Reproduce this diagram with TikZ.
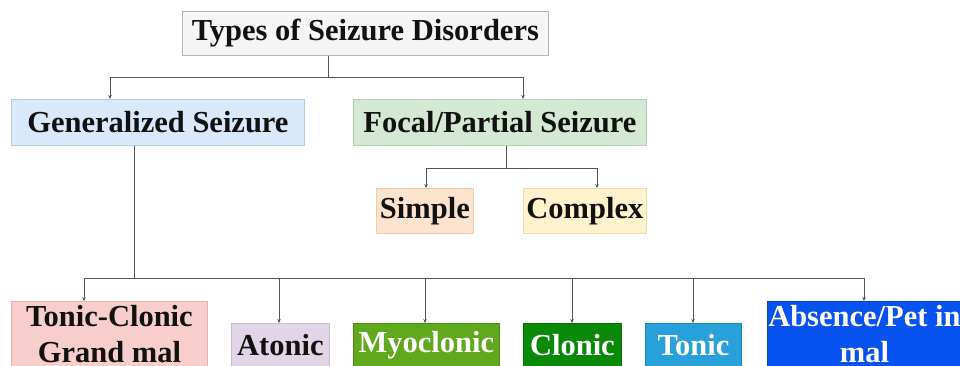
\documentclass[tikz,border=0pt]{standalone}
\usepackage{fontspec}
\setmainfont{Liberation Serif}
\usetikzlibrary{arrows.meta}
\definecolor{cTopF}{HTML}{F5F5F5}\definecolor{cTopD}{HTML}{B5B5B5}
\definecolor{cGenF}{HTML}{DAE8FC}\definecolor{cGenD}{HTML}{B4CBEA}
\definecolor{cFocF}{HTML}{D5E8D4}\definecolor{cFocD}{HTML}{B3D1B1}
\definecolor{cSimF}{HTML}{FCE3CD}\definecolor{cSimD}{HTML}{EBCBAA}
\definecolor{cComF}{HTML}{FFF2CC}\definecolor{cComD}{HTML}{EDDDAA}
\definecolor{cTCF}{HTML}{F8CECC}\definecolor{cTCD}{HTML}{E6B3B1}
\definecolor{cAtoF}{HTML}{E1D5E7}\definecolor{cAtoD}{HTML}{C9B9D2}
\definecolor{cMyoF}{HTML}{60A81C}\definecolor{cMyoD}{HTML}{4A8E12}
\definecolor{cCloF}{HTML}{088A08}\definecolor{cCloD}{HTML}{056E05}
\definecolor{cTonF}{HTML}{28A0DA}\definecolor{cTonD}{HTML}{1A86BC}
\definecolor{cAbsF}{HTML}{0852F0}\definecolor{cAbsD}{HTML}{0640C0}
\definecolor{cLine}{HTML}{555555}
\definecolor{cTxt}{HTML}{111111}
\begin{document}
\begin{tikzpicture}[x=1pt,y=-1pt,
  box/.style={rectangle, anchor=north west, inner sep=0pt, line width=0.8pt,
    font=\bfseries\fontsize{30.5}{36}\selectfont, align=center, text=cTxt},
  wtxt/.style={text=white},
  ln/.style={draw=cLine, line width=0.9pt},
  arr/.style={ln, -{Stealth[length=4pt,width=3.5pt]}}]
\useasboundingbox (0,0) rectangle (960,365);
\clip (0,0) rectangle (960,365);
\fill[white] (0,0) rectangle (960,365);
% nodes
\node[box, fill=cTopF, draw=cTopD, minimum width=366, minimum height=44] (top) at (182,11) {Types of Seizure Disorders};
\node[box, fill=cGenF, draw=cGenD, minimum width=293, minimum height=46] (gen) at (11,99) {Generalized Seizure};
\node[box, fill=cFocF, draw=cFocD, minimum width=293, minimum height=46] (foc) at (353,99) {Focal/Partial Seizure};
\node[box, fill=cSimF, draw=cSimD, minimum width=97, minimum height=45] (sim) at (376,188) {Simple};
\node[box, fill=cComF, draw=cComD, minimum width=123, minimum height=45] (com) at (523,188) {Complex};
\node[box, fill=cTCF, draw=cTCD, minimum width=196, minimum height=66] (tc) at (11,301) {Tonic-Clonic\\Grand mal};
\node[box, fill=cAtoF, draw=cAtoD, minimum width=98, minimum height=44] (ato) at (231,323) {Atonic};
\node[box, wtxt, fill=cMyoF, draw=cMyoD, minimum width=146, minimum height=44] (myo) at (353,323) {Myoclonic};
\node[box, wtxt, fill=cCloF, draw=cCloD, minimum width=98, minimum height=44] (clo) at (523,323) {Clonic};
\node[box, wtxt, fill=cTonF, draw=cTonD, minimum width=96, minimum height=44] (ton) at (645,323) {Tonic};
\node[box, wtxt, fill=cAbsF, draw=cAbsD, minimum width=194, minimum height=66] (abs) at (767,301) {Absence/Pet in\\mal};
% junction coordinates
\coordinate (j1) at (328,77);
\coordinate (xg) at (110,0);
\coordinate (xf) at (523,0);
\coordinate (j2) at (506,168);
\coordinate (xs) at (426,0);
\coordinate (xc) at (597,0);
\coordinate (j3) at (134,278);
\coordinate (x1) at (84,0);
\coordinate (x2) at (279,0);
\coordinate (x3) at (425,0);
\coordinate (x4) at (572,0);
\coordinate (x5) at (693,0);
\coordinate (x6) at (864,0);
% connectors
\draw[ln] (top.south -| j1) -- (j1);
\draw[arr] (j1) -| (gen.north -| xg);
\draw[arr] (j1) -| (foc.north -| xf);
\draw[ln] (foc.south -| j2) -- (j2);
\draw[arr] (j2) -| (sim.north -| xs);
\draw[arr] (j2) -| (com.north -| xc);
\draw[ln] (gen.south -| j3) -- (j3);
\draw[arr] (j3) -| (tc.north -| x1);
\draw[arr] (j3) -| (ato.north -| x2);
\draw[arr] (j3) -| (myo.north -| x3);
\draw[arr] (j3) -| (clo.north -| x4);
\draw[arr] (j3) -| (ton.north -| x5);
\draw[arr] (j3) -| (abs.north -| x6);
\end{tikzpicture}
\end{document}
